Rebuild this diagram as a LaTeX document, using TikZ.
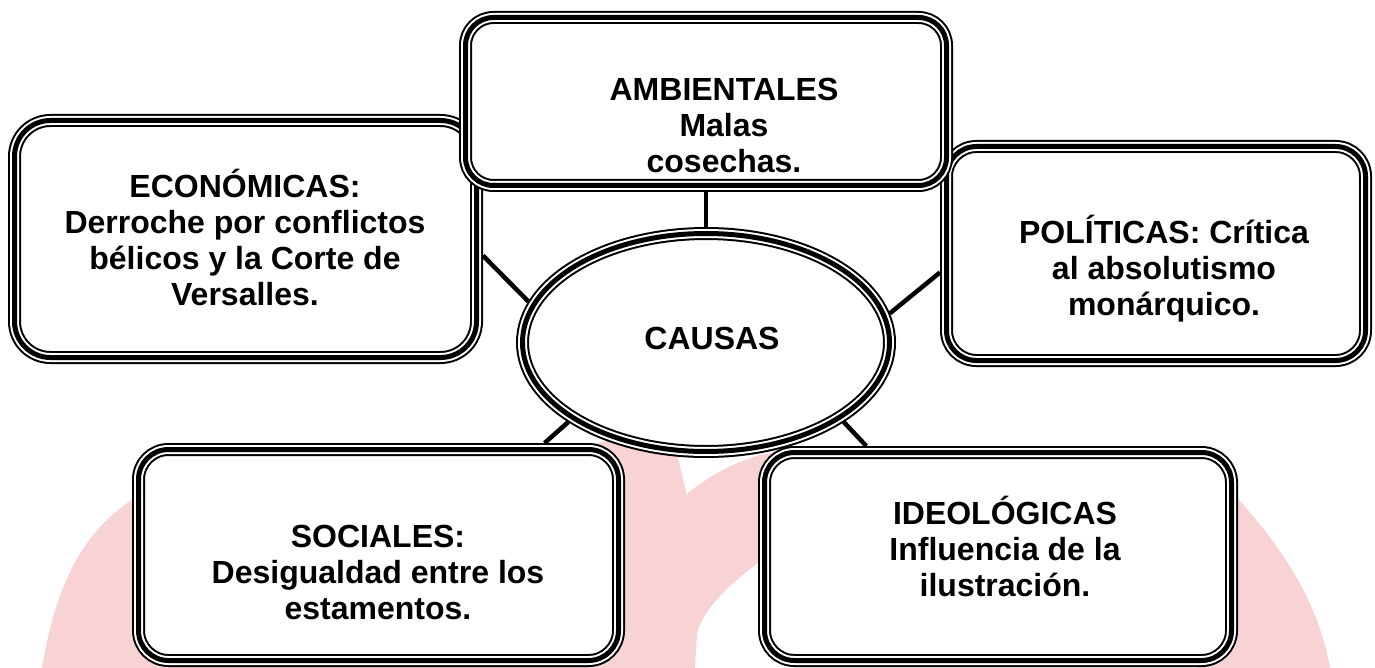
\documentclass[tikz,border=0pt]{standalone}
\usepackage{fontspec}
\setmainfont{Liberation Sans}
\usetikzlibrary{shapes.geometric}
\definecolor{wmpink}{RGB}{248,211,213}
\begin{document}
\begin{tikzpicture}[x=1pt,y=-1pt,
  tri/.style={fill=white, draw=black, line width=13pt, inner sep=0pt, outer sep=6.5pt,
    postaction={draw=white, line width=9pt}, postaction={draw=black, line width=5pt}},
  tribox/.style={tri, rectangle, rounded corners=30pt},
  lbl/.style={align=center, font=\fontsize{32}{36}\selectfont\bfseries, inner sep=0pt},
  link/.style={draw=black, line width=4.5pt}]
\useasboundingbox (0,0) rectangle (1375,668);
% watermark
\fill[wmpink] (42,668) .. controls (55,590) and (80,530) .. (140,495) -- (200,470) -- (560,455)
  -- (605,441) -- (640,436) -- (676,440) -- (678,458) -- (688,500) -- (693,668) -- cycle;
\fill[wmpink] (688,493) .. controls (712,474) and (735,462) .. (760,455) -- (800,448) -- (1000,448)
  .. controls (1120,448) and (1190,460) .. (1237,498) .. controls (1280,545) and (1318,600) .. (1330,668)
  -- (1200,668) -- (790,560) -- (762,560) .. controls (735,580) and (705,605) .. (697,633)
  -- (695,668) -- (640,668) -- cycle;
% boxes
\node[tribox, rounded corners=36pt, minimum width=462pt, minimum height=237pt] (eco) at (245.5,239) {};
\node[tribox, minimum width=419pt, minimum height=214pt] (pol) at (1156,253.5) {};
\node[tribox, rounded corners=28pt, minimum width=481pt, minimum height=168pt] (amb) at (706,101.5) {};
\node[tribox, minimum width=480pt, minimum height=211pt] (soc) at (378.5,555) {};
\node[tribox, minimum width=467pt, minimum height=208pt] (ideo) at (998,556.5) {};
\node[tri, ellipse, minimum width=367pt, minimum height=218pt] (causas) at (706,342.5) {};
% texts
\node[lbl] (ecot) at (245,237) {ECONÓMICAS:\\Derroche por conflictos\\bélicos y la Corte de\\Versalles.};
\node[lbl] (ambt) at (724,125) {AMBIENTALES\\Malas\\cosechas.};
\node[lbl] (polt) at (1164,269) {POLÍTICAS: Crítica\\al absolutismo\\monárquico.};
\node[lbl] (soct) at (378,572) {SOCIALES:\\Desigualdad entre los\\estamentos.};
\node[lbl] (ideot) at (1005,546) {IDEOLÓGICAS\\Influencia de la\\ilustración.};
\node[lbl] (causast) at (712,338) {CAUSAS};
% connectors
\draw[link] (eco.-4.7) -- (causas.167.5);
\draw[link] (amb.south) -- (causas.north);
\draw[link] (pol.185) -- (causas.9);
\draw[link] (soc.34.4) -- (causas.210.7);
\draw[link] (ideo.140.6) -- (causas.-30.8);
\end{tikzpicture}
\end{document}
